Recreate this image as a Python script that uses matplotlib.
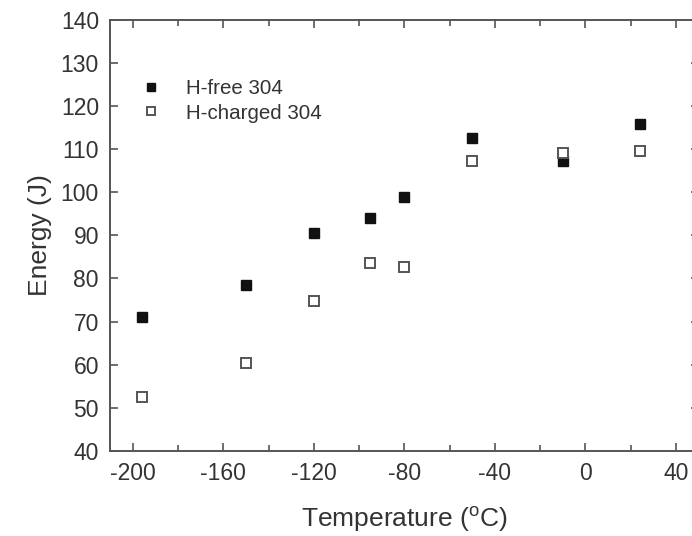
import numpy as np
import matplotlib
matplotlib.use("Agg")
import matplotlib.pyplot as plt
from matplotlib.ticker import MultipleLocator

# data
temperature = [-196, -150, -120, -95, -80, -50, -10, 24]
energy_free = [71.0, 78.5, 90.5, 94.0, 98.8, 112.5, 107.3, 115.7]
energy_charged = [52.6, 60.3, 74.8, 83.6, 82.7, 107.2, 109.1, 109.5]
labels = ["H-free 304", "H-charged 304"]

plt.rcParams['font.family'] = ['Liberation Sans', 'DejaVu Sans']
plt.rcParams['axes.unicode_minus'] = False

fig = plt.figure(figsize=(6.92, 5.36), dpi=100)
ax = fig.add_axes([0.159, 0.1586, 0.8506, 0.805])

ax.plot(temperature, energy_free, ls='none', marker='s', ms=7.5,
        mfc='#111111', mec='#111111', label=labels[0])
ax.plot(temperature, energy_charged, ls='none', marker='s', ms=7.0,
        mfc='white', mec='#555555', mew=1.4, label=labels[1])

ax.set_xlim(-210, 50)
ax.set_ylim(40, 140)
ax.xaxis.set_major_locator(MultipleLocator(40))
ax.xaxis.set_minor_locator(MultipleLocator(20))
ax.yaxis.set_major_locator(MultipleLocator(10))

for s in ax.spines.values():
    s.set_color('#555555')
    s.set_linewidth(1.4)

ax.tick_params(which='both', direction='in', top=True, right=True,
               color='#555555', width=1.2)
ax.tick_params(which='major', length=6)
ax.tick_params(which='minor', length=4)
ax.tick_params(axis='both', labelsize=16.5, labelcolor='#333333')
ax.tick_params(axis='y', pad=8)
ax.tick_params(axis='x', pad=8)

ax.set_xlabel('Temperature ($\\mathregular{^o}$C)', fontsize=19, color='#333333', labelpad=14)
ax.set_ylabel('Energy (J)', fontsize=19, color='#333333', labelpad=6)

ax.legend(loc='upper left', bbox_to_anchor=(0.02, 0.904), frameon=False,
          fontsize=14.8, handlelength=1.0, handletextpad=1.2,
          labelspacing=0.25, labelcolor='#333333', markerscale=0.8)

fig.savefig('out.png', dpi=100)
